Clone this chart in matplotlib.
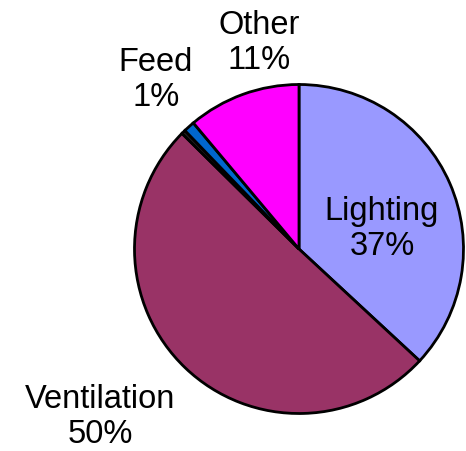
import matplotlib
matplotlib.use("Agg")
import matplotlib.pyplot as plt

categories = ["Lighting", "Ventilation", "", "Feed", "Other"]
values = [36.9, 50.5, 0.4, 1.1, 11.1]
labels = ["Lighting\n37%", "Ventilation\n50%", "", "Feed\n1%", "Other\n11%"]
colors = ["#9999FF", "#993366", "#222222", "#0066CC", "#FF00FF"]

plt.rcParams['font.family'] = ['Liberation Sans', 'DejaVu Sans']

fig = plt.figure(figsize=(4.66, 4.52), dpi=100)
ax = fig.add_axes([0, 0, 1, 1])

cx, cy, r = 299, 250, 164.5
wedges, _ = ax.pie(values, colors=colors, startangle=90, counterclock=False,
                   center=(cx, -cy), radius=r,
                   wedgeprops=dict(edgecolor='black', linewidth=2.0), frame=True)
ax.set_xlim(0, 466)
ax.set_ylim(-452, 0)
ax.set_aspect('equal')
ax.axis('off')

label_pos = {0: (382, 229), 1: (100, 417), 3: (156, 80), 4: (259, 43)}
for i, (x, y) in label_pos.items():
    ax.text(x, -y, labels[i], ha='center', va='center', fontsize=23.5,
            linespacing=1.18, color='black')

fig.savefig("out.png", dpi=100)
